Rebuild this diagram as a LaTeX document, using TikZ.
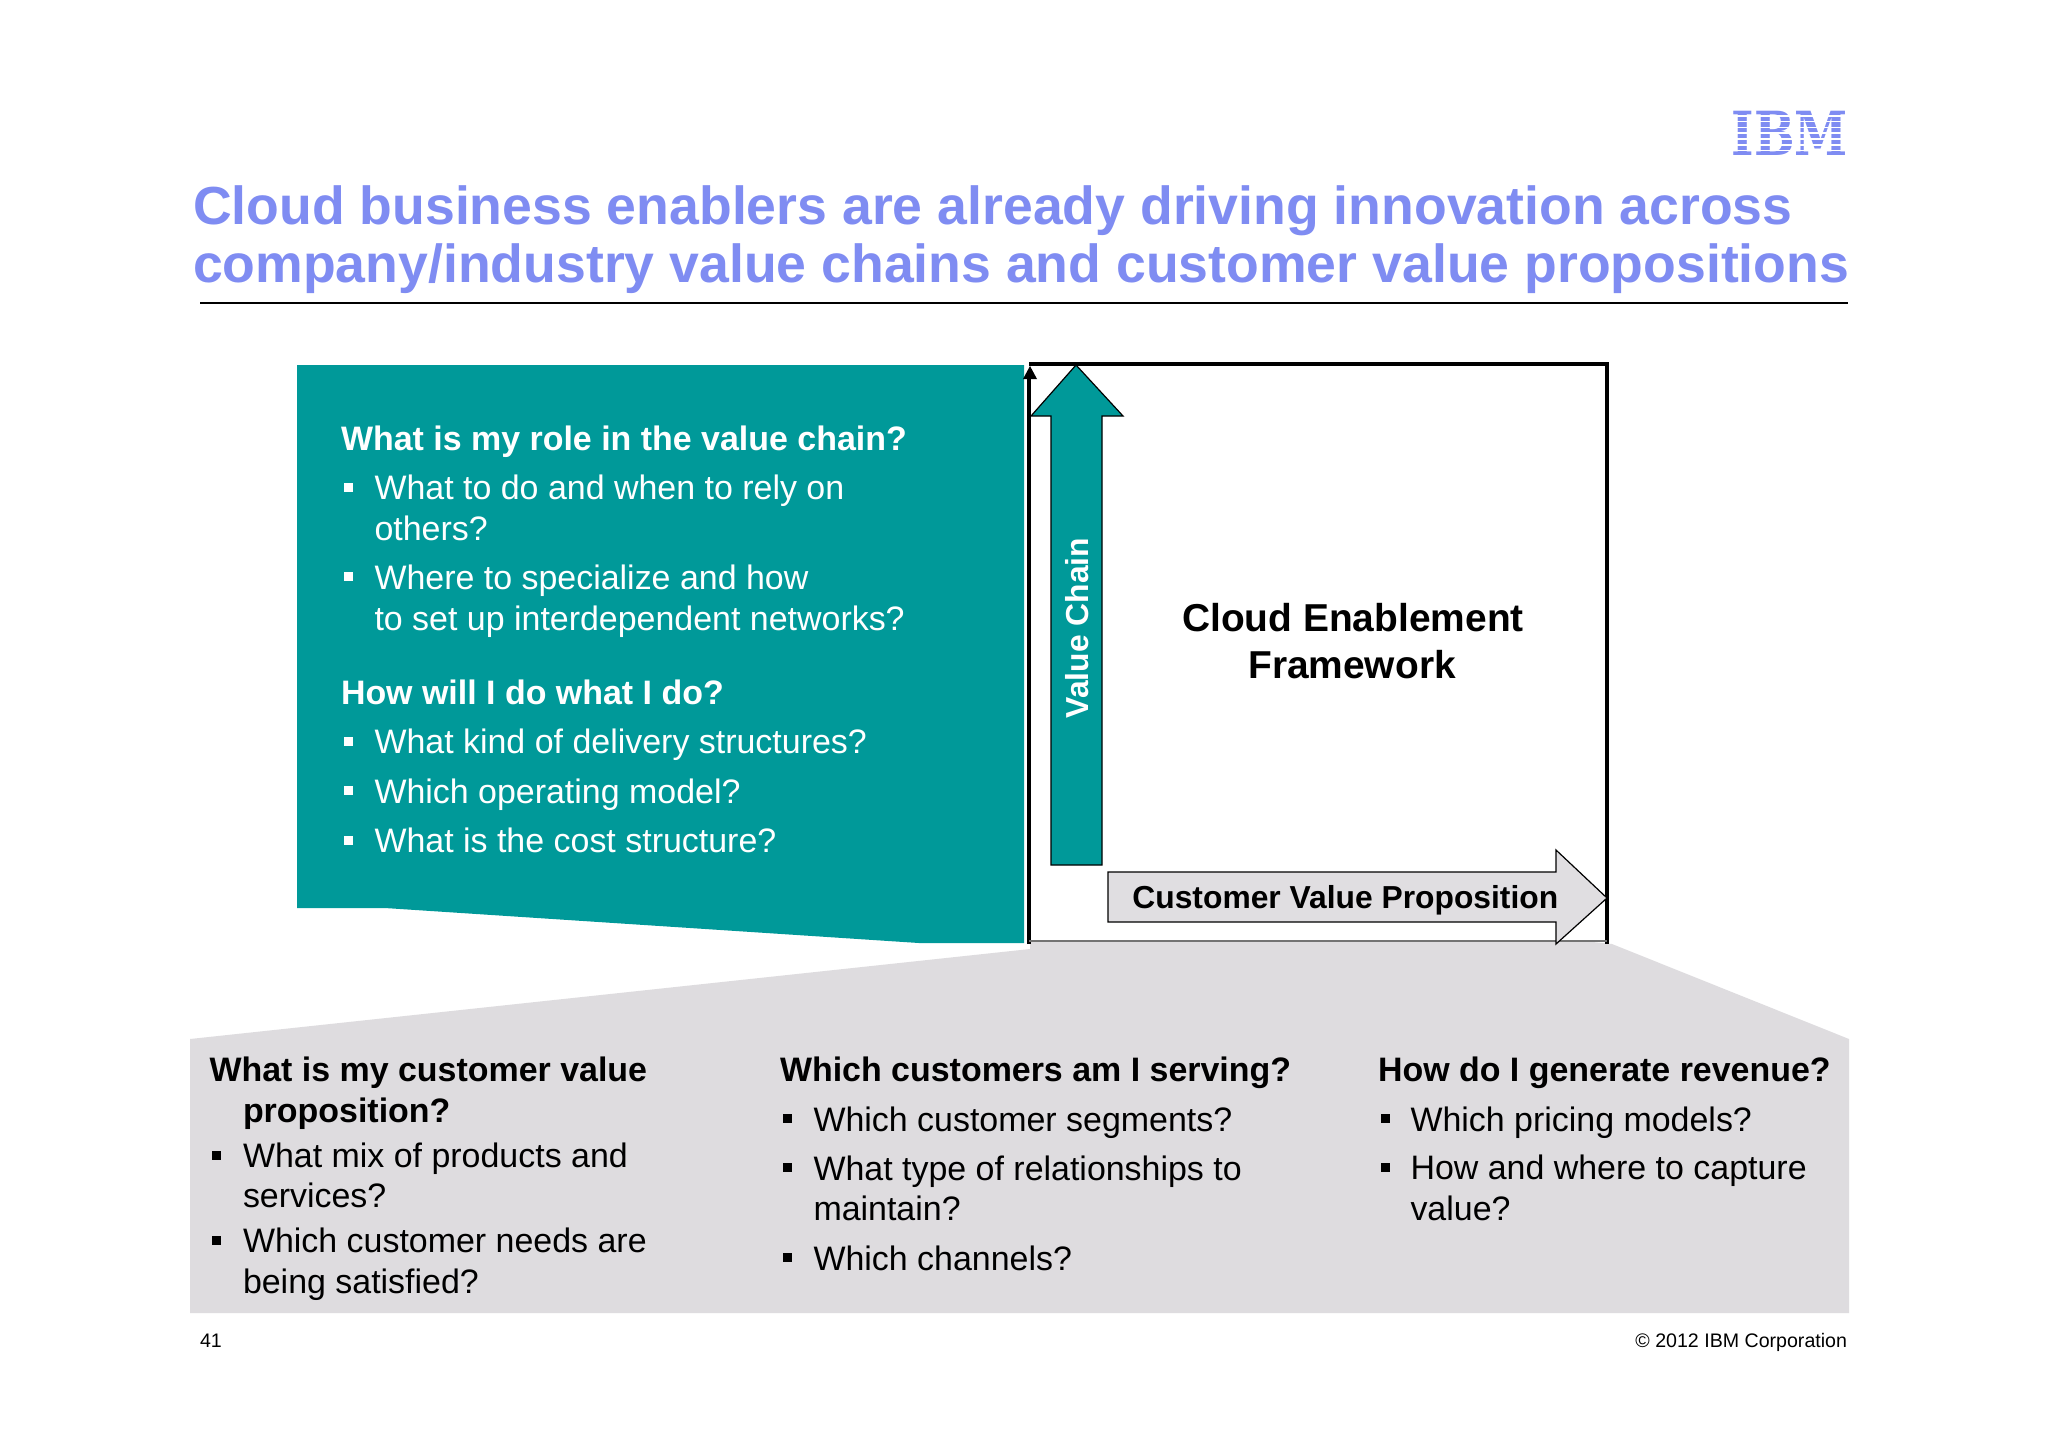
\documentclass[tikz,border=0pt]{standalone}
\usepackage{fontspec}
\setmainfont{Liberation Sans}
\newfontfamily\logofont{DejaVu Serif}
\definecolor{ibmblue}{HTML}{7F8CF2}
\definecolor{tealfill}{HTML}{009999}
\definecolor{grayfill}{HTML}{DEDCDF}
\definecolor{arrowgray}{HTML}{E0DEE1}
\tikzset{
  x=0.5pt,y=-0.5pt,
  txt/.style={anchor=base west,inner sep=0pt,outer sep=0pt},
  titletxt/.style={txt,text=ibmblue,font=\fontsize{26.8}{30}\bfseries\selectfont},
  qhead/.style={txt,font=\fontsize{16.97}{20}\bfseries\selectfont},
  qbody/.style={txt,font=\fontsize{16.97}{20}\selectfont},
  wh/.style={text=white},
  bul/.style={fill=#1,draw=none,minimum size=4.5pt,inner sep=0pt,anchor=center},
  foot/.style={txt,font=\fontsize{9.8}{11}\selectfont},
  big/.style={anchor=base,inner sep=0pt,font=\fontsize{19.45}{22}\bfseries\selectfont},
  lab/.style={inner sep=0pt,font=\fontsize{15.9}{19}\bfseries\selectfont},
  frameline/.style={black,line width=1.9pt},
}
\begin{document}
\begin{tikzpicture}
\useasboundingbox (0,0) rectangle (2048,1447);
\fill[white] (0,0) rectangle (2048,1447);
% logo
\node[inner sep=0pt,text=ibmblue,xscale=0.815,yscale=1.03] (logo) at (1790,133.5) {\fontsize{29.5}{30}\logofont\bfseries IBM};
\foreach \s in {115.7,121.5,127.3,133.1,138.9,144.7,150.5}
  \fill[white] (1725,\s-0.8) rectangle (1855,\s+0.8);
% title
\node[titletxt] (t1) at (193,224) {Cloud business enablers are already driving innovation across};
\node[titletxt] (t2) at (193,282) {company/industry value chains and customer value propositions};
\draw[black,line width=0.75pt] (200,303) -- (1848,303);
% teal panel
\fill[tealfill] (297,365) -- (1024,365) -- (1024,943) -- (919,943) -- (385,908) -- (297,908) -- cycle;
% gray panel
\fill[grayfill] (190,1039) -- (1030,949) -- (1030,942) -- (1593,942) -- (1612,944) -- (1849,1039) -- (1849,1313) -- (190,1313) -- cycle;
% frame
\coordinate (fbl) at (1029,944);
\coordinate (ftl) at (1029,364);
\coordinate (ftr) at (1607,364);
\coordinate (fbr) at (1607,944);
\draw[frameline] (fbl) -- (1029,375);
\draw[frameline] (ftl) -- (ftr) -- (fbr);
\draw[black!55,line width=0.6pt] (fbl |- 0,941) -- (fbr |- 0,941);
\fill[black] (1030,366) -- (1037,379) -- (1023,379) -- cycle;
% value chain arrow
\filldraw[fill=tealfill,draw=black,line width=0.6pt] (1076,365) -- (1123,416) -- (1102,416) -- (1102,865) -- (1051,865) -- (1051,416) -- (1031,416) -- cycle;
\node[lab,text=white,rotate=90] (vc) at (1077,628) {Value Chain};
% customer arrow
\filldraw[fill=arrowgray,draw=black,line width=0.6pt] (1108,872) -- (1556,872) -- (1556,850) -- (1607,898) -- (1556,944) -- (1556,922) -- (1108,922) -- cycle;
\node[lab,anchor=base west] (cvp) at (1132,908) {Customer Value Proposition};
% center
\node[big] (c1) at (1353,631) {Cloud Enablement};
\node[big] (c2) at (1352,678) {Framework};
% teal text
\node[qhead,wh] (a1) at (341,450) {What is my role in the value chain?};
\node[bul=white] (ab1) at (348,487) {};
\node[qbody,wh] (a2) at (374.5,499) {What to do and when to rely on};
\node[qbody,wh] (a3) at (374.5,540) {others?};
\node[bul=white] (ab2) at (348,576) {};
\node[qbody,wh] (a4) at (374.5,589) {Where to specialize and how};
\node[qbody,wh] (a5) at (374.5,630) {to set up interdependent networks?};
\node[qhead,wh] (a6) at (341,704) {How will I do what I do?};
\node[bul=white] (ab3) at (348,741) {};
\node[qbody,wh] (a7) at (374.5,753) {What kind of delivery structures?};
\node[bul=white] (ab4) at (348,790) {};
\node[qbody,wh] (a8) at (374.5,803) {Which operating model?};
\node[bul=white] (ab5) at (348,840) {};
\node[qbody,wh] (a9) at (374.5,852) {What is the cost structure?};
% col 1
\node[qhead] (b1) at (209.5,1081) {What is my customer value};
\node[qhead] (b2) at (243,1122) {proposition?};
\node[bul=black] (bb1) at (216,1155) {};
\node[qbody] (b3) at (243,1167) {What mix of products and};
\node[qbody] (b4) at (243,1207) {services?};
\node[bul=black] (bb2) at (216,1240) {};
\node[qbody] (b5) at (243,1252) {Which customer needs are};
\node[qbody] (b6) at (243,1293) {being satisfied?};
% col 2
\node[qhead] (d1) at (780,1081) {Which customers am I serving?};
\node[bul=black] (db1) at (787,1118) {};
\node[qbody] (d2) at (813.5,1131) {Which customer segments?};
\node[bul=black] (db2) at (787,1167) {};
\node[qbody] (d3) at (813.5,1180) {What type of relationships to};
\node[qbody] (d4) at (813.5,1220) {maintain?};
\node[bul=black] (db3) at (787,1257) {};
\node[qbody] (d5) at (813.5,1270) {Which channels?};
% col 3
\node[qhead] (e1) at (1378,1081) {How do I generate revenue?};
\node[bul=black] (eb1) at (1385,1118) {};
\node[qbody] (e2) at (1410.5,1131) {Which pricing models?};
\node[bul=black] (eb2) at (1385,1167) {};
\node[qbody] (e3) at (1410.5,1179) {How and where to capture};
\node[qbody] (e4) at (1410.5,1220) {value?};
% footer
\node[foot] (f1) at (200,1347) {41};
\node[foot,anchor=base east] (f2) at (1847,1347) {© 2012 IBM Corporation};
\end{tikzpicture}
\end{document}
